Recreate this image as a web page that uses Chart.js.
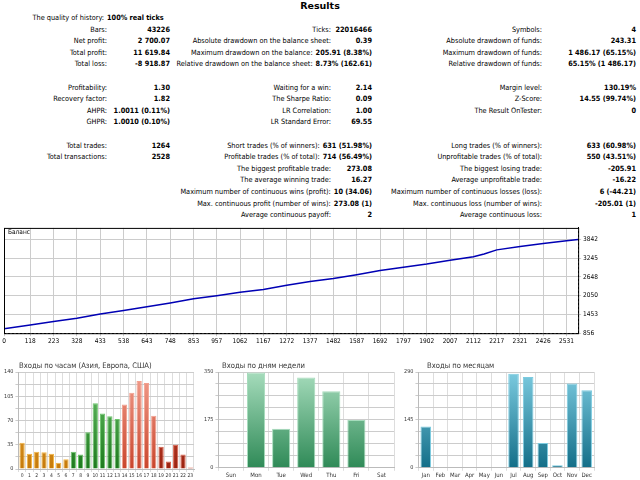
<!DOCTYPE html>
<html>
<head>
<meta charset="utf-8">
<script src="https://cdn.jsdelivr.net/npm/chart.js@4/dist/chart.umd.min.js"></script>
<style>
  body { margin: 0; background: #fff; font-family: "DejaVu Sans Condensed", "DejaVu Sans", sans-serif; font-size: 7.3px; color: #000; }
  #page { position: relative; width: 640px; height: 480px; overflow: hidden; }
  .t { position: absolute; white-space: nowrap; line-height: 10px; }
  .row { display: flex; justify-content: flex-end; }
  .row .l { padding-right: 3px; }
  .row .v { text-align: right; font-weight: bold; }
  canvas { position: absolute; }
  .ct { position: absolute; font-size: 7.6px; color: #333; }
</style>
</head>
<body>
<div id="page">
  <div class="t" style="left:0;width:640px;top:1px;text-align:center;font-weight:bold;font-size:9.5px;font-family:'DejaVu Sans'">Results</div>
  <canvas id="balance" width="600" height="124" style="left:0;top:222px"></canvas>
  <div class="ct" style="left:8px;top:228px;font-size:6.5px;color:#000">Баланс</div>
  <canvas id="hours" width="200" height="118" style="left:0;top:362px"></canvas>
  <canvas id="days" width="200" height="118" style="left:200px;top:362px"></canvas>
  <canvas id="months" width="200" height="118" style="left:400px;top:362px"></canvas>
  <div class="ct" style="left:19px;top:361px">Входы по часам (Азия, Европа, США)</div>
  <div class="ct" style="left:222px;top:361px">Входы по дням недели</div>
  <div class="ct" style="left:427px;top:361px">Входы по месяцам</div>
</div>
<script>
// report table rows: [row, label, value] per column group
const leftRows = [
  [1, "Bars:", "43226"], [2, "Net profit:", "2 700.07"], [3, "Total profit:", "11 619.84"],
  [4, "Total loss:", "-8 918.87"], [6, "Profitability:", "1.30"], [7, "Recovery factor:", "1.82"],
  [8, "AHPR:", "1.0011 (0.11%)"], [9, "GHPR:", "1.0010 (0.10%)"],
  [11, "Total trades:", "1264"], [12, "Total transactions:", "2528"]
];
const midRows = [
  [1, "Ticks:", "22016466"], [2, "Absolute drawdown on the balance sheet:", "0.39"],
  [3, "Maximum drawdown on the balance:", "205.91 (8.38%)"],
  [4, "Relative drawdown on the balance sheet:", "8.73% (162.61)"],
  [6, "Waiting for a win:", "2.14"], [7, "The Sharpe Ratio:", "0.09"],
  [8, "LR Correlation:", "1.00"], [9, "LR Standard Error:", "69.55"],
  [11, "Short trades (% of winners):", "631 (51.98%)"],
  [12, "Profitable trades (% of total):", "714 (56.49%)"],
  [13, "The biggest profitable trade:", "273.08"], [14, "The average winning trade:", "16.27"],
  [15, "Maximum number of continuous wins (profit):", "10 (34.06)"],
  [16, "Max. continuous profit (number of wins):", "273.08 (1)"],
  [17, "Average continuous payoff:", "2"]
];
const rightRows = [
  [1, "Symbols:", "4"], [2, "Absolute drawdown of funds:", "243.31"],
  [3, "Maximum drawdown of funds:", "1 486.17 (65.15%)"],
  [4, "Relative drawdown of funds:", "65.15% (1 486.17)"],
  [6, "Margin level:", "130.19%"], [7, "Z-Score:", "14.55 (99.74%)"],
  [8, "The Result OnTester:", "0"],
  [11, "Long trades (% of winners):", "633 (60.98%)"],
  [12, "Unprofitable trades (% of total):", "550 (43.51%)"],
  [13, "The biggest losing trade:", "-205.91"], [14, "Average unprofitable trade:", "-16.22"],
  [15, "Maximum number of continuous losses (loss):", "6 (-44.21)"],
  [16, "Max. continuous loss (number of wins):", "-205.01 (1)"],
  [17, "Average continuous loss:", "1"]
];

// balance curve
const balanceX = [0, 118, 223, 328, 433, 538, 643, 748, 853, 957, 1062, 1167, 1272, 1377, 1482,
  1587, 1692, 1797, 1902, 2007, 2112, 2160, 2217, 2322, 2426, 2531, 2583];
const balanceY = [1000, 1120, 1230, 1330, 1470, 1580, 1700, 1820, 1950, 2050, 2160, 2250, 2380, 2500, 2600,
  2720, 2850, 2960, 3060, 3180, 3290, 3380, 3510, 3620, 3710, 3800, 3842];
const balanceXTicks = [0, 118, 223, 328, 433, 538, 643, 748, 853, 957, 1062, 1167, 1272, 1377, 1482,
  1587, 1692, 1797, 1902, 2007, 2112, 2217, 2321, 2426, 2531];
const balanceYTicks = [856, 1453, 2050, 2648, 3245, 3842];

const hourLabels = ["0","1","2","3","4","5","6","7","8","9","10","11","12","13","14","15","16","17","18","19","20","21","22","23"];
const hourValues = [38, 22, 25, 24, 22, 9, 14, 25, 21, 53, 95, 80, 76, 72, 93, 110, 127, 124, 77, 32, 11, 35, 21, 2];
const dayLabels = ["Sun", "Mon", "Tue", "Wed", "Thu", "Fri", "Sat"];
const dayValues = [0, 348, 143, 330, 280, 175, 0];
const monthLabels = ["Jan", "Feb", "Mar", "Apr", "May", "Jun", "Jul", "Aug", "Sep", "Oct", "Nov", "Dec"];
const monthValues = [125, 0, 0, 0, 0, 0, 285, 275, 75, 8, 255, 235];

const page = document.getElementById("page");
const rowTop = (r) => 13 + r * 11.6;
// label right edge sits at labEnd unless the value is wider than its column
const putRow = (r, label, value, labEnd, valEnd) => {
  const d = document.createElement("div");
  d.className = "t row";
  d.style.cssText = `right:${640 - valEnd}px;top:${rowTop(r)}px`;
  d.innerHTML = `<span class="l"></span><span class="v" style="min-width:${valEnd - labEnd - 3}px"></span>`;
  d.children[0].textContent = label;
  d.children[1].textContent = value;
  page.appendChild(d);
};
const q = document.createElement("div");
q.className = "t row";
q.style.cssText = `left:0;width:175px;top:${rowTop(0)}px;justify-content:flex-start`;
q.innerHTML = '<span class="l" style="width:104px;text-align:right">The quality of history:</span><span class="v">100% real ticks</span>';
page.appendChild(q);
leftRows.forEach(([r, l, v]) => putRow(r, l, v, 107, 170));
midRows.forEach(([r, l, v]) => putRow(r, l, v, 331, 372));
rightRows.forEach(([r, l, v]) => putRow(r, l, v, 542, 636));

Chart.defaults.font.family = "DejaVu Sans Condensed";
Chart.defaults.font.size = 6.5;
Chart.defaults.color = "#333";
Chart.defaults.animation = false;

new Chart(document.getElementById("balance"), {
  type: "line",
  data: {
    datasets: [{
      data: balanceX.map((x, i) => ({ x, y: balanceY[i] })),
      borderColor: "#0000b4",
      borderWidth: 1.5,
      pointRadius: 0,
      tension: 0
    }]
  },
  options: {
    responsive: false,
    layout: { padding: { left: 4, top: 3, right: 0 } },
    plugins: { legend: { display: false }, tooltip: { enabled: false } },
    scales: {
      x: {
        type: "linear", min: 0, max: 2583,
        afterBuildTicks: (s) => { s.ticks = balanceXTicks.map((v) => ({ value: v })); },
        ticks: { maxRotation: 0, autoSkip: false, padding: 1, color: "#000", callback: (v) => String(v) },
        grid: { color: "#ccc", tickLength: 3, drawTicks: true },
        border: { color: "#000", dash: [] }
      },
      y: {
        position: "right", min: 856, max: 4210,
        afterBuildTicks: (s) => { s.ticks = balanceYTicks.map((v) => ({ value: v })); },
        ticks: { padding: 2, color: "#000", callback: (v) => String(v) },
        grid: { color: "#ccc", tickLength: 3 },
        border: { color: "#000" }
      }
    }
  },
  plugins: [{
    id: "dash",
    beforeDraw(c) { c.ctx.setLineDash([2, 2]); },
    beforeDatasetsDraw(c) { c.ctx.setLineDash([]); },
    afterDraw(c) {
      const a = c.chartArea, ctx = c.ctx;
      ctx.save(); ctx.setLineDash([]); ctx.strokeStyle = "#000"; ctx.lineWidth = 1;
      ctx.strokeRect(a.left + 0.5, a.top + 0.5, a.width, a.height); ctx.restore();
    }
  }]
});

function barChart(id, labels, values, max, step, colorFor, tickSize) {
  new Chart(document.getElementById(id), {
    type: "bar",
    data: {
      labels,
      datasets: [{
        data: values,
        backgroundColor: (ctx) => {
          const a = ctx.chart.chartArea;
          if (!a) return "#888";
          const [top, bottom] = colorFor(ctx.dataIndex);
          const g = ctx.chart.ctx.createLinearGradient(0, a.top, 0, a.bottom);
          g.addColorStop(0, top); g.addColorStop(1, bottom);
          return g;
        },
        borderColor: (ctx) => colorFor(ctx.dataIndex)[0],
        borderWidth: 1,
        categoryPercentage: 0.85,
        barPercentage: 0.85
      }]
    },
    options: {
      responsive: false,
      layout: { padding: { top: 10, right: 6, left: 2 } },
      plugins: { legend: { display: false }, tooltip: { enabled: false } },
      scales: {
        x: {
          ticks: { maxRotation: 0, autoSkip: false, padding: 1, font: { size: tickSize } },
          grid: { color: "#ddd", offset: true, tickLength: 3 },
          border: { color: "#bbb" }
        },
        y: {
          min: 0, max,
          ticks: {
            stepSize: step / 4, font: { size: 5.5 }, padding: 2,
            callback: (v) => (v % step === 0 ? v : "")
          },
          grid: { color: "#ccc", tickLength: 3 },
          border: { color: "#bbb" }
        }
      }
    }
  });
}

barChart("hours", hourLabels, hourValues, 140, 35, (i) => {
  if (i <= 6) return ["#f2b544", "#c67a0a"];
  if (i <= 13) return ["#6cc56c", "#1d7a1d"];
  if (i <= 18) return ["#f3a08f", "#c9452c"];
  return ["#d9604a", "#9c2210"];
}, 5);
barChart("days", dayLabels, dayValues, 350, 175, () => ["#a6dcbc", "#2f8a57"], 6);
barChart("months", monthLabels, monthValues, 290, 145, () => ["#7ccbe0", "#136e88"], 6);
</script>
</body>
</html>
